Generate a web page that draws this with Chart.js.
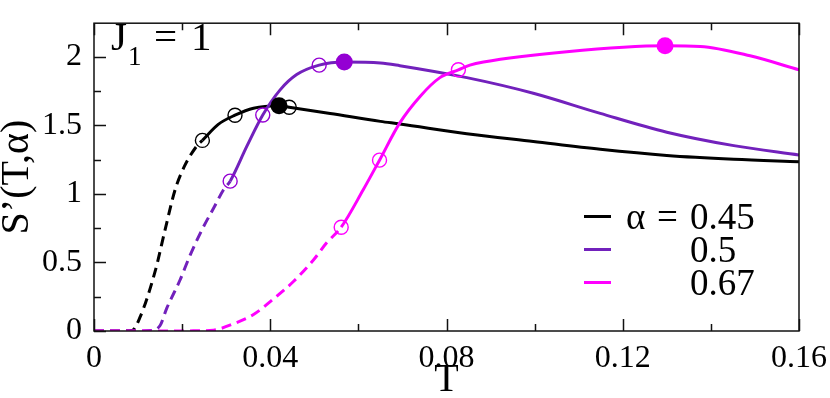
<!DOCTYPE html>
<html>
<head>
<meta charset="utf-8">
<script src="https://cdn.jsdelivr.net/npm/chart.js@4.4.1/dist/chart.umd.min.js"></script>
<style>
  body { margin: 0; background: #fff; }
  canvas { display: block; }
</style>
</head>
<body>
<canvas id="myChart" width="830" height="398"></canvas>
<script>
// curves S'(T, alpha)
const T045 = [0, 0.004, 0.0086, 0.0104, 0.0139, 0.0161, 0.0184, 0.0205, 0.0233, 0.0246, 0.0282, 0.032, 0.0362, 0.042, 0.0443, 0.0536, 0.065, 0.0694, 0.0846, 0.0997, 0.1149, 0.13, 0.1452, 0.16];
const S045 = [0, 0, 0.003, 0.097, 0.438, 0.734, 1.03, 1.2, 1.348, 1.39, 1.507, 1.574, 1.625, 1.643, 1.632, 1.587, 1.529, 1.51, 1.439, 1.382, 1.325, 1.28, 1.252, 1.234];
const T05 = [0, 0.008, 0.0127, 0.015, 0.0165, 0.0195, 0.0218, 0.0248, 0.0271, 0.0294, 0.0309, 0.0347, 0.0383, 0.0422, 0.046, 0.0511, 0.0568, 0.065, 0.0694, 0.0846, 0.0997, 0.1149, 0.13, 0.1452, 0.16];
const S05 = [0, 0, 0.003, 0.04, 0.165, 0.37, 0.552, 0.757, 0.893, 1.03, 1.093, 1.348, 1.575, 1.757, 1.87, 1.939, 1.962, 1.955, 1.935, 1.848, 1.734, 1.587, 1.45, 1.352, 1.284];
const T067 = [0, 0.015, 0.0225, 0.0271, 0.0316, 0.0362, 0.0407, 0.0452, 0.0498, 0.0528, 0.0561, 0.0611, 0.0648, 0.0694, 0.074, 0.0785, 0.0827, 0.0853, 0.0884, 0.1073, 0.1296, 0.1376, 0.1489, 0.16];
const S067 = [0, 0, 0.001, 0.006, 0.052, 0.12, 0.233, 0.359, 0.518, 0.643, 0.757, 1.03, 1.246, 1.518, 1.711, 1.848, 1.905, 1.939, 1.962, 2.037, 2.08, 2.075, 2.007, 1.905];

// where the dashed part of each curve ends
const dashEnd = [0.0246, 0.0309, 0.0561];

// open and filled markers
const openT = [[0.0246, 0.032, 0.0443], [0.0309, 0.0383, 0.0511], [0.0561, 0.0648, 0.0827]];
const openS = [[1.39, 1.574, 1.632], [1.093, 1.575, 1.939], [0.757, 1.246, 1.905]];
const fillT = [0.042, 0.0568, 0.1296];
const fillS = [1.643, 1.962, 2.08];

const alphas = ['0.45', '0.5', '0.67'];
const lineColors = ['#000000', '#7221bc', '#ff00ff'];
const markColors = ['#000000', '#9400d3', '#ff00ff'];

const xTicks = [0, 0.04, 0.08, 0.12, 0.16];
const xTickLabels = ['0', '0.04', '0.08', '0.12', '0.16'];
const yTicks = [0, 0.5, 1, 1.5, 2];
const yTickLabels = ['0', '0.5', '1', '1.5', '2'];

const curveT = [T045, T05, T067];
const curveS = [S045, S05, S067];

const toPoints = (xs, ys) => xs.map((x, i) => ({x: x, y: ys[i]}));

const datasets = [];
curveT.forEach((xs, k) => {
	datasets.push({
		label: 'alpha = ' + alphas[k],
		data: toPoints(xs, curveS[k]),
		showLine: true,
		borderColor: lineColors[k],
		borderWidth: 3,
		pointRadius: 0,
		cubicInterpolationMode: 'monotone',
		order: 20 - k,
		segment: {
			borderDash: c => c.p1.parsed.x <= dashEnd[k] + 1e-9 ? [10, 6] : undefined
		}
	});
});
openT.forEach((xs, k) => {
	datasets.push({
		data: toPoints(xs, openS[k]),
		showLine: false,
		pointRadius: 7,
		pointBorderWidth: 1.4,
		pointBorderColor: markColors[k],
		pointBackgroundColor: 'rgba(0,0,0,0)',
		order: 10 - k
	});
});
fillT.forEach((x, k) => {
	datasets.push({
		data: [{x: x, y: fillS[k]}],
		showLine: false,
		pointRadius: 8.5,
		pointBorderWidth: 0,
		pointBorderColor: markColors[k],
		pointBackgroundColor: markColors[k],
		order: 3 - k
	});
});

const serif = '"Liberation Serif", "DejaVu Serif", serif';

// frame, inward ticks, legend and J1 label
const decor = {
	id: 'decor',
	afterDraw(chart) {
		const {ctx, chartArea: a, scales: {x, y}} = chart;
		ctx.save();
		ctx.strokeStyle = '#111';
		ctx.lineWidth = 1.5;
		ctx.strokeRect(a.left, a.top, a.right - a.left, a.bottom - a.top);
		ctx.beginPath();
		for (let i = 0; i <= 8; i++) {
			const v = i * 0.02;
			const px = Math.round(x.getPixelForValue(v)) + 0.5;
			const len = i % 2 === 0 ? 12 : 7;
			ctx.moveTo(px, a.bottom); ctx.lineTo(px, a.bottom - len);
			ctx.moveTo(px, a.top); ctx.lineTo(px, a.top + len);
		}
		for (let i = 0; i <= 8; i++) {
			const v = i * 0.25;
			const py = Math.round(y.getPixelForValue(v)) + 0.5;
			const len = i % 2 === 0 ? 12 : 7;
			ctx.moveTo(a.left, py); ctx.lineTo(a.left + len, py);
		}
		ctx.stroke();

		// legend
		ctx.fillStyle = '#000';
		ctx.font = '37px ' + serif;
		ctx.textBaseline = 'alphabetic';
		alphas.forEach((lab, k) => {
			const ly = 216.5 + k * 33;
			ctx.strokeStyle = lineColors[k];
			ctx.lineWidth = 3;
			ctx.beginPath();
			ctx.moveTo(584, ly); ctx.lineTo(611, ly);
			ctx.stroke();
			ctx.fillText(lab, 690, ly + 12);
		});
		ctx.fillText('\u03b1', 626, 228.5);
		ctx.fillText('=', 657, 228.5);

		// J1 = 1
		ctx.font = '41px ' + serif;
		ctx.fillText('J', 111, 50);
		ctx.fillText('=', 154, 50);
		ctx.fillText('1', 191, 50);
		ctx.font = '27px ' + serif;
		ctx.fillText('1', 128, 65);
		ctx.restore();
	}
};

const options = {
	responsive: false,
	maintainAspectRatio: false,
	animation: false,
	layout: {padding: {top: 2, right: 31, left: 0, bottom: 0}},
	plugins: {legend: {display: false}, tooltip: {enabled: false}},
	scales: {
		x: {
			type: 'linear',
			min: 0, max: 0.16,
			grid: {display: false},
			border: {display: false},
			afterFit: s => { s.height = 67; },
			afterBuildTicks: s => { s.ticks = xTicks.map(v => ({value: v})); },
			ticks: {
				padding: 0,
				color: '#000',
				font: {family: serif, size: 32},
				maxRotation: 0,
				autoSkip: false,
				callback: (v, i) => xTickLabels[i]
			},
			title: {
				display: true, text: 'T', color: '#000',
				font: {family: serif, size: 40, lineHeight: 1},
				padding: {top: 0, bottom: -2}
			}
		},
		y: {
			type: 'linear',
			min: 0, max: 2.245,
			grid: {display: false},
			border: {display: false},
			afterFit: s => { s.width = 94; },
			afterBuildTicks: s => { s.ticks = yTicks.map(v => ({value: v})); },
			ticks: {
				padding: 4,
				color: '#000',
				font: {family: serif, size: 32},
				autoSkip: false,
				callback: (v, i) => yTickLabels[i]
			},
			title: {
				display: true, text: 'S\u2019(T,\u03b1)', color: '#000',
				font: {family: serif, size: 40, lineHeight: 1},
				padding: {top: -3, bottom: 0}
			}
		}
	}
};

const ctx = document.getElementById('myChart').getContext('2d');
const myChart = new Chart(ctx, {type: 'scatter', data: {datasets}, options, plugins: [decor]});
</script>
</body>
</html>
